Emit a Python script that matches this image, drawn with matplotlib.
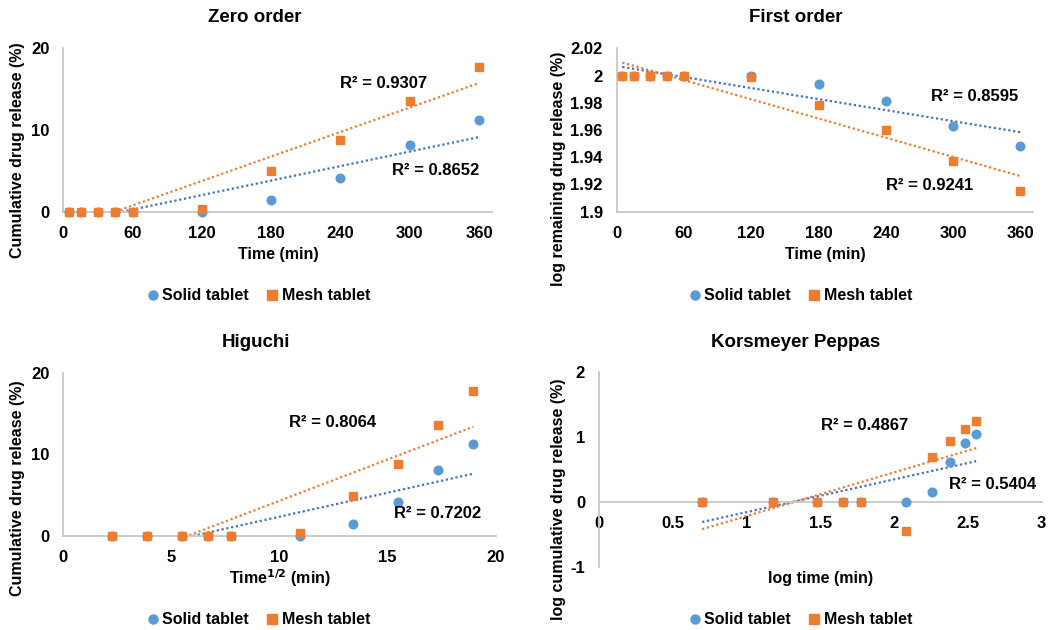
import numpy as np
import matplotlib
matplotlib.use("Agg")
import matplotlib.pyplot as plt
from matplotlib.lines import Line2D

plt.rcParams['font.family'] = ['Liberation Sans', 'DejaVu Sans']
plt.rcParams['font.weight'] = 'bold'

# Sampling times (min)
time_min = [5, 15, 30, 45, 60, 120, 180, 240, 300, 360]

# Cumulative drug release (%)
solid_release = [0, 0, 0, 0, 0, 0, 1.43, 4.16, 8.12, 11.22]
mesh_release = [0, 0, 0, 0, 0, 0.33, 4.94, 8.78, 13.55, 17.76]

# log remaining drug (%)
solid_log_remaining = [2.0, 2.0, 2.0, 2.0, 2.0, 2.0, 1.9937, 1.9816, 1.9633, 1.9483]
mesh_log_remaining = [2.0, 2.0, 2.0, 2.0, 2.0, 1.9986, 1.9780, 1.9602, 1.9370, 1.9150]

# Square root of time
sqrt_time = [2.24, 3.87, 5.48, 6.71, 7.75, 10.95, 13.42, 15.49, 17.32, 18.97]

# log time and log cumulative release
log_time = [0.699, 1.176, 1.477, 1.653, 1.778, 2.079, 2.255, 2.380, 2.477, 2.556]
solid_log_release = [0, 0, 0, 0, 0, 0, 0.155, 0.619, 0.910, 1.050]
mesh_log_release = [0, 0, 0, 0, 0, -0.45, 0.694, 0.943, 1.132, 1.249]

series_names = ["Solid tablet", "Mesh tablet"]
r2_labels = {
    "zero": ["R² = 0.8652", "R² = 0.9307"],
    "first": ["R² = 0.8595", "R² = 0.9241"],
    "higuchi": ["R² = 0.7202", "R² = 0.8064"],
    "kp": ["R² = 0.5404", "R² = 0.4867"],
}

BLUE = "#5B9BD5"
ORANGE = "#ED7D31"
TREND_BLUE = "#4472C4"
TREND_ORANGE = "#ED7D31"
SPINE = "#C8C8C8"

W, H = 1057, 630
fig = plt.figure(figsize=(W / 100, H / 100), dpi=100)


def box(left, top, right, bottom):
    return [left / W, 1 - bottom / H, (right - left) / W, (bottom - top) / H]


def fx(x):
    return x / W


def fy(y):
    return 1 - y / H


def panel(rect, x, ys, xlim, ylim, xticks, yticks, xticklabels, yticklabels,
          r2, r2_pos, zero_axis=False):
    ax = fig.add_axes(rect)
    ax.set_xlim(*xlim)
    ax.set_ylim(*ylim)
    for s in ["top", "right"]:
        ax.spines[s].set_visible(False)
    for s in ["left", "bottom"]:
        ax.spines[s].set_color(SPINE)
        ax.spines[s].set_linewidth(1.3)
    if zero_axis:
        ax.spines["bottom"].set_position(("data", 0))
    ax.set_xticks(xticks)
    ax.set_yticks(yticks)
    ax.set_xticklabels(xticklabels)
    ax.set_yticklabels(yticklabels)
    ax.tick_params(length=0, labelsize=12, pad=10)
    for lab in ax.get_xticklabels() + ax.get_yticklabels():
        lab.set_fontweight("bold")

    xa = np.array(x, dtype=float)
    trend_cols = [TREND_BLUE, TREND_ORANGE]
    for y, tc in zip(ys, trend_cols):
        ya = np.array(y, dtype=float)
        k, b = np.polyfit(xa, ya, 1)
        xs = np.array([xa.min(), xa.max()])
        ax.plot(xs, k * xs + b, linestyle=(0, (1, 1.2)), color=tc, lw=1.6,
                zorder=2)
    ax.plot(x, ys[0], 'o', color=BLUE, ms=6.2, mec=BLUE, zorder=3,
            clip_on=False)
    ax.plot(x, ys[1], 's', color=ORANGE, ms=6.2, mec=ORANGE, zorder=4,
            clip_on=False)
    for txt, (tx, ty) in zip(r2, r2_pos):
        ax.text(tx, ty, txt, ha="right", va="center", fontsize=12,
                fontweight="bold", color="black", zorder=5)
    return ax


def legend_at(cx, cy):
    handles = [
        Line2D([], [], marker='o', ls='none', color=BLUE, ms=6.5),
        Line2D([], [], marker='s', ls='none', color=ORANGE, ms=6.5),
    ]
    fig.legend(handles, series_names, loc="center", ncol=2,
               bbox_to_anchor=(fx(cx), fy(cy)), frameon=False,
               prop={"size": 11.5, "weight": "bold"}, handlelength=0.6,
               handletextpad=0.3, columnspacing=1.15, borderaxespad=0)


def labels(title_xy, title, xl_xy, xl, yl_xy, yl):
    fig.text(fx(title_xy[0]), fy(title_xy[1]), title, ha="center",
             va="center", fontsize=13.5, fontweight="bold")
    fig.text(fx(xl_xy[0]), fy(xl_xy[1]), xl, ha="center", va="center",
             fontsize=11.5, fontweight="bold")
    fig.text(fx(yl_xy[0]), fy(yl_xy[1]), yl, ha="center", va="center",
             fontsize=11.5, fontweight="bold", rotation=90)


t_ticks = [0, 60, 120, 180, 240, 300, 360]

# Zero order
panel(box(63.3, 48.3, 491.7, 211.7), time_min, [solid_release, mesh_release],
      (0, 371), (0, 20), t_ticks, [0, 10, 20],
      [str(t) for t in t_ticks], ["0", "10", "20"],
      r2_labels["zero"], [(360, 5.0), (315, 15.7)])
labels((255, 18), "Zero order", (278, 255), "Time (min)",
       (18, 150), "Cumulative drug release (%)")
legend_at(259, 296)

# First order
fo_yticks = [1.9, 1.92, 1.94, 1.96, 1.98, 2.0, 2.02]
panel(box(616.7, 48.3, 1032.7, 211.7), time_min,
      [solid_log_remaining, mesh_log_remaining],
      (0, 371), (1.9, 2.02), t_ticks, fo_yticks,
      [str(t) for t in t_ticks],
      ["1.9", "1.92", "1.94", "1.96", "1.98", "2", "2.02"],
      r2_labels["first"], [(358, 1.9845), (318, 1.9189)])
labels((796, 18), "First order", (825, 255), "Time (min)",
       (559, 169), "log remaining drug release (%)")
legend_at(801, 296)

# Higuchi
panel(box(63.3, 372.7, 495.7, 536.0), sqrt_time, [solid_release, mesh_release],
      (0, 20), (0, 20), [0, 5, 10, 15, 20], [0, 10, 20],
      ["0", "5", "10", "15", "20"], ["0", "10", "20"],
      r2_labels["higuchi"], [(19.32, 2.7), (14.46, 13.9)])
labels((256, 343), "Higuchi", (280, 578), "Time$^{\\mathbf{1/2}}$ (min)",
       (18, 488), "Cumulative drug release (%)")
legend_at(259, 620)

# Korsmeyer Peppas
panel(box(599.0, 372.3, 1041.7, 566.7), log_time,
      [solid_log_release, mesh_log_release],
      (0, 3), (-1, 2), [0, 0.5, 1, 1.5, 2, 2.5, 3], [-1, 0, 1, 2],
      ["0", "0.5", "1", "1.5", "2", "2.5", "3"], ["-1", "0", "1", "2"],
      r2_labels["kp"], [(2.961, 0.27), (2.094, 1.18)], zero_axis=True)
labels((796, 343), "Korsmeyer Peppas", (821, 579), "log time (min)",
       (559, 499), "log cumulative drug release (%)")
legend_at(801, 620)

fig.savefig("out.png", dpi=100)
